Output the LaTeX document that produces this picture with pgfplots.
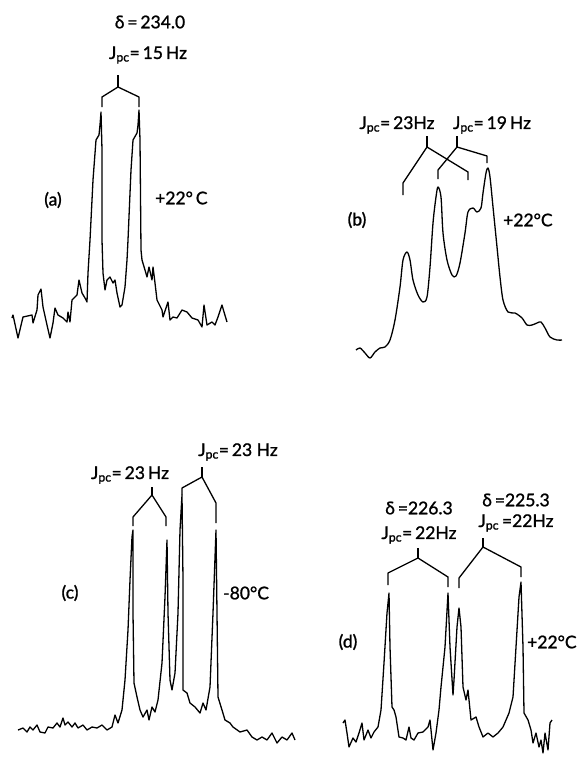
\documentclass[border=0pt]{standalone}
\usepackage{fontspec}
\setmainfont[FakeBold=1.2]{Lato}
\usepackage{pgfplots}
\pgfplotsset{compat=1.18}

% panels are digitised in picture pixels: x to the right, y downwards
\newcommand{\J}{J\textsubscript{pc}}

\begin{document}
\begin{tikzpicture}
\begin{axis}[
  width=572pt, height=760pt, scale only axis,
  xmin=0, xmax=572, ymin=0, ymax=760, y dir=reverse,
  hide axis, clip=false,
  every axis plot post/.append style={black, solid, line width=1.3pt, line join=round, mark=none},
  nodes={font=\fontsize{17.5}{20}\selectfont, inner sep=0pt},
]
\draw[draw=none] (rel axis cs:0,0) rectangle (rel axis cs:1,1);

% ---- (a) +22 C
\addplot coordinates {(12,318)(13,315)(18,338)(23,317)(32,315)(33,323)(37,310)(38,295)(41,289)
  (43,307)(47,325)(50,338)(53,323)(55,308)(58,315)(63,318)(67,322)(68,312)(70,322)(72,300)
  (77,295)(79,280)(82,293)(85,298)(87,302)(88,273)(90,240)(93,180)(96,140)(99,135)(100,125)(101,112)
  (102,150)(102,240)(103,273)(105,290)(107,280)(110,277)(113,283)(115,280)(117,293)(120,307)
  (122,305)(125,287)(127,260)(128,240)(131,170)(133,140)(137,133)(138,125)(139,110)(140,140)
  (141,250)(142,260)(145,270)(147,277)(149,267)(152,280)(153,267)(155,283)(157,300)(162,310)
  (163,317)(168,302)(170,320)(173,317)(177,318)(182,310)(187,312)(192,318)(198,320)(202,327)
  (204,305)(207,325)(212,322)(215,325)(218,317)(222,305)(224,312)(227,322)};
\addplot[line width=1.2pt] coordinates {(102,107)(102,97)(118,87)(139,97)(139,107)};
\addplot[line width=1.2pt] coordinates {(118,87)(118,75)};
\node at (axis cs:150,22) {δ\,=\,234.0};
\node at (axis cs:148,55) {\J{}=\,15\,Hz};
\node at (axis cs:53,200) {(a)};
\node[anchor=west] at (axis cs:155,198) {+22°\,C};

% ---- (b) +22 C
\addplot[smooth, tension=0.5] coordinates {(356,350)(360,348)(365,353)(370,358)(375,352)(380,348)
  (385,347)(390,340)(395,320)(400,287)(403,260)(407,252)(410,260)(413,280)(418,295)(423,302)
  (427,297)(430,267)(433,223)(436,197)(438,187)(441,197)(443,233)(447,260)(452,275)(456,276)
  (460,263)(465,233)(468,212)(473,208)(477,212)(481,208)(483,193)(486,173)(488,168)(490,177)
  (493,207)(497,247)(500,277)(503,300)(508,312)(515,313)(522,318)(527,325)(532,325)(537,323)
  (541,322)(545,328)(550,337)(557,340)(562,340)};
\addplot[line width=1.2pt] coordinates {(403,195)(403,183)(427,147)(468,172)(468,180)};
\addplot[line width=1.2pt] coordinates {(427,147)(427,136)};
\addplot[line width=1.2pt] coordinates {(438,179)(438,170)(457,147)(487,156)(487,163)};
\addplot[line width=1.2pt] coordinates {(457,147)(457,136)};
\node at (axis cs:397,125) {\J{}=\,23Hz};
\node at (axis cs:492,125) {\J{}=\,19\,Hz};
\node at (axis cs:357,220) {(b)};
\node[anchor=west] at (axis cs:503,220) {+22°C};

% ---- (c) -80 C
\addplot coordinates {(18,730)(23,728)(27,732)(30,727)(33,730)(37,725)(40,732)(45,733)(48,727)
  (53,728)(57,723)(60,727)(63,718)(65,725)(68,722)(72,727)(75,723)(78,728)(83,725)(87,730)
  (92,727)(97,728)(102,725)(107,730)(112,727)(115,715)(118,723)(122,710)(125,680)(128,630)
  (130,580)(132,537)(133,530)(133,613)(134,683)(137,697)(140,710)(143,717)(147,710)(149,720)
  (152,707)(155,712)(158,700)(162,663)(165,597)(167,540)(168,613)(170,680)(172,690)(175,673)
  (178,613)(180,530)(182,495)(183,580)(183,690)(187,693)(190,703)(195,707)(200,713)(203,703)
  (206,710)(210,687)(213,613)(216,530)(217,613)(218,697)(222,710)(225,720)(230,723)(233,727)
  (240,732)(247,730)(252,737)(257,740)(262,737)(267,740)(272,733)(277,743)(282,737)(287,740)
  (292,733)(295,740)};
\addplot[line width=1.2pt] coordinates {(133,526)(133,517)(152,495)(166,517)(166,526)};
\addplot[line width=1.2pt] coordinates {(152,495)(152,487)};
\addplot[line width=1.2pt] coordinates {(182,495)(182,488)(202,477)(216,503)(216,523)};
\addplot[line width=1.2pt] coordinates {(202,477)(202,467)};
\node at (axis cs:130,475) {\J{}=\,23\,Hz};
\node at (axis cs:238,452) {\J{}=\,23 Hz};
\node at (axis cs:70,593) {(c)};
\node[anchor=west] at (axis cs:223,593) {-80°C};

% ---- (d) +22 C
\addplot coordinates {(343,723)(345,720)(347,733)(349,747)(353,738)(356,742)(359,733)(362,723)
  (364,740)(368,730)(371,738)(374,732)(378,727)(381,710)(384,663)(387,613)(389,593)(390,647)
  (392,707)(394,710)(396,717)(399,737)(403,738)(406,740)(409,727)(411,738)(414,740)(418,733)
  (423,732)(428,727)(430,720)(433,750)(436,733)(439,710)(441,687)(445,647)(448,593)(450,647)
  (453,695)(454,680)(457,627)(459,608)(461,627)(463,687)(466,700)(468,690)(471,720)(476,717)
  (479,727)(483,737)(488,733)(493,737)(498,733)(503,727)(506,720)(509,713)(513,697)(516,647)
  (519,597)(521,582)(523,647)(524,713)(528,720)(531,730)(533,743)(536,733)(539,747)(541,740)
  (543,753)(545,733)(548,750)(550,723)(552,720)};
\addplot[line width=1.2pt] coordinates {(388,585)(388,573)(418,558)(448,577)(448,587)};
\addplot[line width=1.2pt] coordinates {(418,558)(418,548)};
\addplot[line width=1.2pt] coordinates {(459,588)(459,578)(483,547)(521,567)(521,577)};
\addplot[line width=1.2pt] coordinates {(483,547)(483,538)};
\node at (axis cs:419,508) {δ\,=226.3};
\node at (axis cs:419,535) {\J{}=\,22Hz};
\node at (axis cs:516,500) {δ\,=225.3};
\node at (axis cs:516,523) {\J{}\,=22Hz};
\node at (axis cs:348,642) {(d)};
\node[anchor=west] at (axis cs:527,642) {+22°C};
\end{axis}
\end{tikzpicture}
\end{document}
